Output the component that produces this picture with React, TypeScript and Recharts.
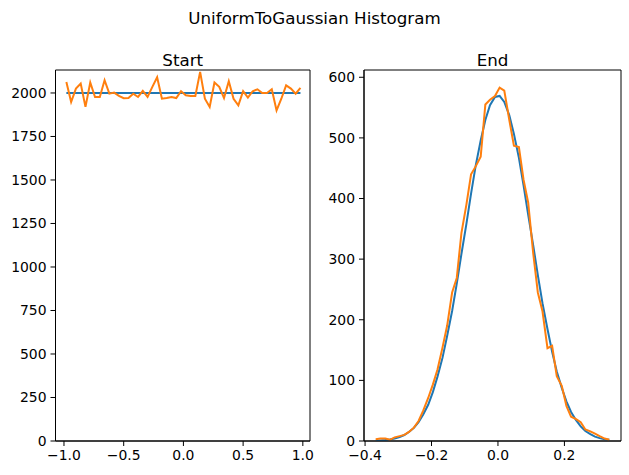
import { LineChart, Line, XAxis, YAxis, ReferenceArea } from 'recharts';

const startX = [
  -0.98, -0.94, -0.9, -0.86, -0.82, -0.78, -0.74, -0.7, -0.66, -0.62,
  -0.58, -0.54, -0.5, -0.46, -0.42, -0.38, -0.34, -0.3, -0.26, -0.22,
  -0.18, -0.14, -0.1, -0.06, -0.02, 0.02, 0.06, 0.1, 0.14, 0.18,
  0.22, 0.26, 0.3, 0.34, 0.38, 0.42, 0.46, 0.5, 0.54, 0.58,
  0.62, 0.66, 0.7, 0.74, 0.78, 0.82, 0.86, 0.9, 0.94, 0.98,
];
const startExpected = [
  2000, 2000, 2000, 2000, 2000, 2000, 2000, 2000, 2000, 2000,
  2000, 2000, 2000, 2000, 2000, 2000, 2000, 2000, 2000, 2000,
  2000, 2000, 2000, 2000, 2000, 2000, 2000, 2000, 2000, 2000,
  2000, 2000, 2000, 2000, 2000, 2000, 2000, 2000, 2000, 2000,
  2000, 2000, 2000, 2000, 2000, 2000, 2000, 2000, 2000, 2000,
];
const startCounts = [
  2063, 1948, 2025, 2054, 1920, 2060, 1977, 1977, 2073, 1996,
  2002, 1983, 1970, 1971, 1996, 1977, 2012, 1977, 2035, 2090,
  1967, 1971, 1977, 1971, 2010, 1987, 1983, 1983, 2121, 1967,
  1920, 2060, 2035, 1971, 2067, 1967, 1929, 2010, 1973, 2010,
  2021, 2000, 2000, 2021, 1900, 1967, 2044, 2025, 1996, 2029,
];

const endX = [
  -0.368, -0.354, -0.339, -0.325, -0.311, -0.296, -0.282, -0.268, -0.253, -0.239,
  -0.225, -0.21, -0.196, -0.182, -0.167, -0.153, -0.138, -0.124, -0.11, -0.095,
  -0.081, -0.067, -0.052, -0.038, -0.024, -0.009, 0.005, 0.019, 0.034, 0.048,
  0.063, 0.077, 0.091, 0.106, 0.12, 0.134, 0.149, 0.163, 0.177, 0.192,
  0.206, 0.22, 0.235, 0.249, 0.263, 0.278, 0.292, 0.306, 0.321, 0.335,
];
const endExpected = [
  0.6, 1.0, 1.6, 2.6, 4.2, 6.5, 9.9, 14.8, 21.6, 31.0,
  43.6, 59.8, 80.6, 106.2, 137.1, 173.3, 214.5, 259.7, 308.5, 358.2,
  408.0, 454.2, 495.8, 529.5, 554.0, 567.5, 569.2, 559.2, 537.7, 506.6,
  467.0, 421.8, 372.9, 323.0, 273.7, 227.4, 184.8, 147.3, 114.6, 87.6,
  65.4, 47.9, 34.3, 24.1, 16.5, 11.2, 7.3, 4.7, 3.0, 1.9,
];
const endCounts = [
  3, 4, 4, 2, 6, 8, 10, 15, 22, 33,
  50, 71, 93, 118, 154, 190, 245, 269, 343, 390,
  440, 453, 469, 555, 563, 569, 583, 578, 530, 487,
  485, 431, 393, 310, 245, 214, 153, 157, 107, 91,
  58, 40, 36, 31, 19, 16, 12, 8, 4, 2,
];

const startXTicks = [-1, -0.5, 0, 0.5, 1];
const startYTicks = [0, 250, 500, 750, 1000, 1250, 1500, 1750, 2000];
const endXTicks = [-0.4, -0.2, 0, 0.2];
const endYTicks = [0, 100, 200, 300, 400, 500, 600];

const startData = startX.map((x, i) => ({ x, expected: startExpected[i], count: startCounts[i] }));
const endData = endX.map((x, i) => ({ x, expected: endExpected[i], count: endCounts[i] }));

const FONT = 'DejaVu Sans';
const tickStyle = { fill: '#000', fontSize: 13.9, fontFamily: FONT };
const fmtX = (v: number) => v.toFixed(1).replace('-', '\u2212');

export default function App() {
  return (
    <div style={{ position: 'absolute', left: 0, top: 0, width: 629, height: 475, background: '#fff' }}>
      <svg width={629} height={475} style={{ position: 'absolute', left: 0, top: 0 }}>
        <text x={314.5} y={18} textAnchor="middle" dominantBaseline="central" fontFamily={FONT} fontSize={16.7} fill="#000">
          UniformToGaussian Histogram
        </text>
        <text x={182.7} y={60} textAnchor="middle" dominantBaseline="central" fontFamily={FONT} fontSize={16.7} fill="#000">
          Start
        </text>
        <text x={492.5} y={60} textAnchor="middle" dominantBaseline="central" fontFamily={FONT} fontSize={16.7} fill="#000">
          End
        </text>
      </svg>

      <div style={{ position: 'absolute', left: 0, top: 0 }}>
        <LineChart width={320} height={475} data={startData} margin={{ top: 70, right: 10, bottom: 0, left: 0 }}>
          <XAxis
            type="number"
            dataKey="x"
            domain={[-1.071, 1.06]}
            allowDataOverflow
            ticks={startXTicks}
            tickFormatter={fmtX}
            tick={tickStyle}
            tickSize={5}
            tickMargin={4}
            height={34}
            stroke="#000"
          />
          <YAxis
            type="number"
            domain={[0, 2132]}
            allowDataOverflow
            ticks={startYTicks}
            tick={tickStyle}
            tickSize={5}
            tickMargin={4}
            width={55.5}
            stroke="#000"
          />
          <ReferenceArea x1={-1.071} x2={1.06} y1={0} y2={2132} fill="none" stroke="#000" strokeWidth={1} ifOverflow="visible" />
          <Line dataKey="expected" stroke="#1f77b4" strokeWidth={2} dot={false} isAnimationActive={false} />
          <Line dataKey="count" stroke="#ff7f0e" strokeWidth={2} dot={false} isAnimationActive={false} />
        </LineChart>
      </div>

      <div style={{ position: 'absolute', left: 320, top: 0 }}>
        <LineChart width={309} height={475} data={endData} margin={{ top: 70, right: 8, bottom: 0, left: 0 }}>
          <XAxis
            type="number"
            dataKey="x"
            domain={[-0.4032, 0.3703]}
            allowDataOverflow
            ticks={endXTicks}
            tickFormatter={fmtX}
            tick={tickStyle}
            tickSize={5}
            tickMargin={4}
            height={34}
            stroke="#000"
          />
          <YAxis
            type="number"
            domain={[0, 612]}
            allowDataOverflow
            ticks={endYTicks}
            tick={tickStyle}
            tickSize={5}
            tickMargin={4}
            width={44}
            stroke="#000"
          />
          <ReferenceArea x1={-0.4032} x2={0.3703} y1={0} y2={612} fill="none" stroke="#000" strokeWidth={1} ifOverflow="visible" />
          <Line dataKey="expected" stroke="#1f77b4" strokeWidth={2} dot={false} isAnimationActive={false} />
          <Line dataKey="count" stroke="#ff7f0e" strokeWidth={2} dot={false} isAnimationActive={false} />
        </LineChart>
      </div>
    </div>
  );
}
